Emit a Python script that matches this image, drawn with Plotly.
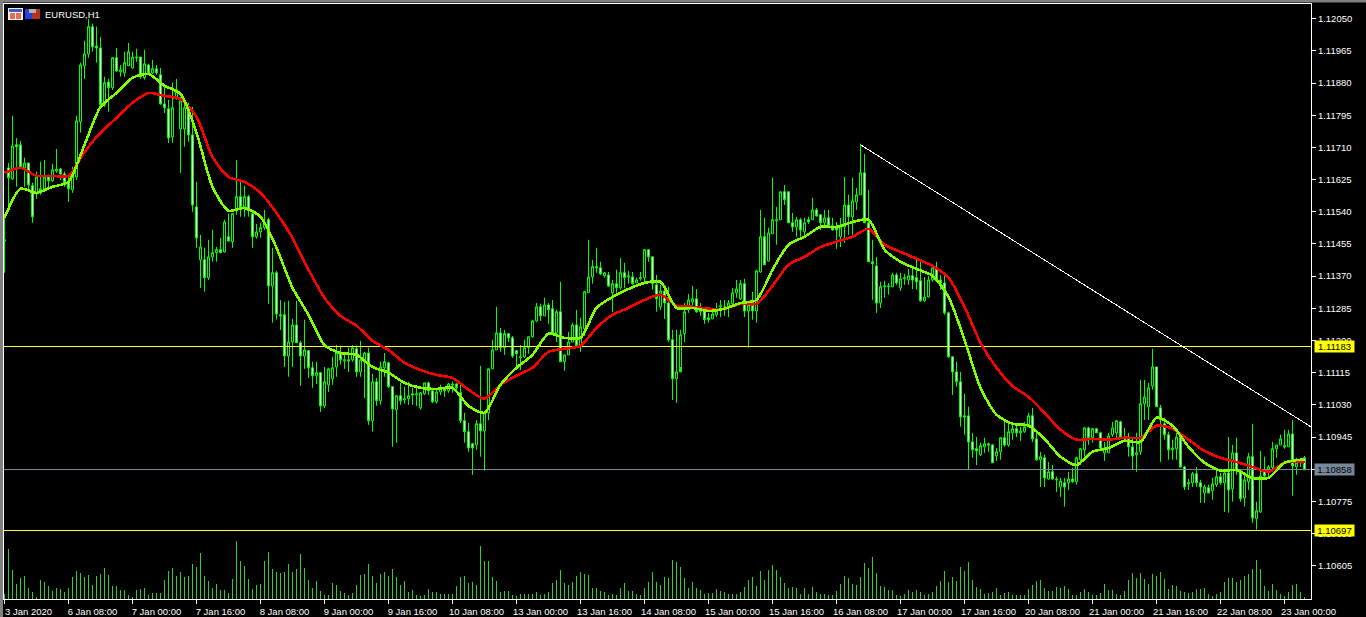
import plotly.graph_objects as go

# Prices are stored in points (1 point = 0.00001)
open_pts = [111466,111656,111627,111717,111717,111656,111669,111609,111590,111590,111601,111632,111622,111648,111653,111640,111619,111598,111632,111778,
111926,111957,112029,111978,111973,111823,111883,111868,111947,111910,111907,111926,111920,111949,111949,111894,111928,111907,111918,111902,
111825,111812,111738,111844,111759,111759,111815,111743,111553,111413,111413,111366,111421,111432,111440,111434,111474,111461,111543,111580,
111553,111580,111535,111474,111487,111498,111519,111344,111379,111268,111268,111159,111196,111241,111194,111159,111173,111128,111107,111115,
111027,111083,111099,111130,111165,111146,111149,111149,111178,111117,111149,111167,110988,111091,111041,111128,111141,111078,111017,111054,
111043,111046,111059,111056,111022,111059,111088,111067,111038,111064,111075,111067,111085,111085,111062,110988,110959,110927,110924,110980,
110961,111009,111125,111175,111220,111181,111218,111207,111173,111154,111157,111181,111210,111252,111289,111265,111294,111284,111220,111276,
111144,111162,111196,111241,111186,111231,111326,111368,111395,111392,111371,111373,111326,111350,111339,111379,111368,111368,111352,111363,
111366,111440,111421,111347,111289,111331,111299,111202,111099,111117,111218,111281,111302,111310,111276,111281,111260,111257,111268,111289,
111289,111286,111297,111326,111310,111350,111278,111302,111278,111381,111474,111410,111482,111516,111519,111593,111593,111511,111500,111519,
111487,111519,111519,111545,111532,111511,111524,111503,111498,111474,111500,111558,111527,111566,111585,111643,111511,111408,111397,111299,
111342,111342,111342,111373,111339,111363,111360,111371,111366,111358,111305,111315,111360,111392,111360,111352,111273,111157,111117,111091,
111001,111001,110932,110914,110898,110919,110927,110924,110895,110906,110943,110924,110956,110967,110956,110959,110972,111001,110940,110885,
110890,110834,110853,110834,110813,110824,110824,110834,110827,110885,110911,110969,110943,110967,110956,110903,110903,110951,110956,110985,
110945,110945,110919,110898,110906,111033,111025,111080,111130,111022,110980,110951,110911,110914,110943,110866,110821,110824,110848,110824,
110797,110811,110803,110819,110840,110824,110850,110808,110903,110856,110784,110827,110893,110729,110747,110853,110853,110864,110914,110924,
110922,110919,110953,110866,110885,110890]

high_pts = [111527,111669,111794,111735,111727,111683,111669,111617,111646,111672,111677,111638,111667,111706,111656,111646,111632,111659,111794,111934,
111992,112050,112037,112029,112002,111897,111891,111949,111973,111928,111963,111986,111963,111971,111949,111968,111931,111941,111928,111920,
111878,111836,111881,111891,111844,111841,111828,111817,111619,111479,111445,111466,111492,111447,111471,111519,111535,111537,111677,111627,
111609,111585,111540,111508,111511,111545,111524,111445,111384,111307,111302,111305,111257,111305,111199,111255,111175,111144,111144,111115,
111130,111128,111157,111188,111186,111170,111181,111188,111186,111199,111170,111181,111112,111101,111144,111167,111144,111078,111056,111088,
111078,111091,111075,111075,111064,111088,111091,111070,111075,111083,111075,111088,111091,111088,111083,111009,110982,110930,110990,111133,
111009,111128,111202,111289,111233,111228,111220,111212,111175,111188,111202,111210,111255,111299,111297,111313,111299,111307,111281,111355,
111162,111223,111247,111281,111260,111331,111466,111413,111445,111408,111381,111381,111360,111387,111418,111405,111384,111381,111366,111381,
111440,111440,111421,111373,111347,111347,111342,111228,111228,111228,111299,111323,111344,111336,111299,111286,111273,111281,111299,111307,
111307,111307,111339,111360,111360,111363,111299,111329,111387,111545,111524,111498,111630,111553,111593,111611,111593,111537,111527,111524,
111524,111527,111577,111550,111532,111545,111545,111524,111513,111524,111632,111585,111630,111603,111720,111693,111598,111466,111421,111355,
111358,111352,111379,111379,111379,111376,111389,111395,111421,111408,111368,111371,111392,111408,111373,111381,111276,111157,111144,111117,
111059,111025,110956,110945,110930,110943,110930,110927,110916,110945,110985,110982,110977,110977,110972,110985,111009,111022,110964,110906,
110898,110879,110871,110840,110837,110837,110853,110864,110893,110916,110972,110972,110969,110969,110959,110932,110956,110985,110990,110988,
110969,110956,110945,110956,111096,111096,111088,111178,111130,111030,110996,110959,110938,110956,110951,110869,110834,110853,110866,110832,
110819,110819,110837,110858,110850,110858,110945,110924,110943,110858,110845,110903,110980,110774,110908,110893,110871,110932,110924,110951,
110964,110964,110990,110890,110890,110895]

low_pts = [111379,111553,111624,111606,111656,111606,111593,111511,111574,111585,111598,111598,111619,111643,111624,111606,111566,111590,111624,111749,
111891,111947,111963,111934,111817,111817,111804,111862,111910,111897,111897,111926,111918,111936,111891,111889,111902,111904,111902,111823,
111801,111722,111722,111836,111643,111712,111725,111540,111445,111339,111329,111360,111408,111408,111432,111432,111461,111445,111532,111527,
111527,111527,111445,111469,111471,111492,111297,111247,111255,111228,111130,111104,111130,111194,111080,111125,111101,111075,111085,111011,
111022,111064,111083,111104,111136,111125,111117,111144,111104,111104,111048,110977,110959,111027,111030,111104,111075,110919,110930,111030,
111033,111030,111030,111027,111017,111056,111056,111035,111033,111056,111051,111062,111062,111064,110982,110930,110906,110845,110911,110893,
110856,110990,111125,111175,111170,111162,111196,111154,111128,111122,111154,111165,111207,111249,111252,111265,111244,111220,111196,111144,
111120,111162,111196,111186,111170,111212,111326,111350,111379,111373,111366,111342,111276,111326,111334,111339,111350,111347,111352,111358,
111350,111408,111334,111276,111281,111257,111196,111043,111035,111130,111196,111273,111286,111273,111265,111244,111247,111257,111262,111262,
111265,111262,111294,111313,111307,111262,111181,111255,111247,111379,111400,111410,111482,111453,111519,111558,111511,111487,111474,111474,
111479,111508,111519,111527,111492,111498,111500,111490,111442,111447,111458,111479,111479,111545,111585,111511,111408,111307,111273,111286,
111313,111321,111342,111347,111331,111347,111347,111336,111334,111302,111302,111313,111355,111355,111334,111268,111154,111056,111078,110972,
110951,110858,110890,110871,110895,110903,110906,110877,110882,110885,110919,110919,110938,110945,110935,110956,110972,110932,110882,110813,
110813,110832,110832,110800,110787,110761,110805,110824,110819,110871,110893,110924,110930,110956,110916,110882,110903,110945,110943,110945,
110932,110893,110858,110853,110898,110990,110990,111070,111025,110879,110938,110885,110885,110885,110864,110805,110805,110813,110813,110771,
110771,110797,110779,110813,110819,110747,110745,110774,110845,110774,110761,110805,110718,110700,110745,110840,110840,110858,110890,110924,
110914,110919,110790,110845,110866,110858]

close_pts = [111463,111630,111714,111712,111659,111669,111611,111527,111632,111601,111632,111622,111651,111653,111640,111617,111601,111638,111780,111928,
111957,112029,111976,111973,111823,111881,111868,111947,111912,111915,111934,111963,111949,111947,111897,111931,111907,111918,111907,111825,
111815,111735,111815,111862,111833,111815,111743,111558,111471,111447,111366,111421,111432,111440,111432,111513,111463,111535,111580,111553,
111580,111543,111474,111487,111498,111508,111344,111379,111270,111265,111159,111196,111241,111194,111159,111175,111128,111107,111115,111027,
111091,111125,111128,111167,111149,111149,111146,111181,111117,111149,111167,110988,111091,111041,111130,111144,111078,111019,111054,111041,
111046,111054,111056,111059,111062,111088,111067,111038,111064,111075,111067,111085,111083,111075,110988,110959,110916,110916,110980,110961,
111009,111125,111175,111220,111181,111218,111207,111159,111165,111157,111181,111210,111252,111289,111265,111294,111281,111220,111276,111144,
111162,111196,111241,111186,111236,111329,111368,111395,111392,111376,111379,111344,111350,111339,111379,111366,111371,111350,111360,111366,
111440,111421,111350,111310,111331,111299,111202,111099,111117,111215,111276,111307,111310,111276,111284,111255,111255,111270,111278,111292,
111281,111299,111326,111336,111350,111278,111294,111278,111384,111474,111400,111484,111519,111519,111593,111572,111511,111500,111519,111492,
111511,111513,111545,111529,111511,111524,111503,111492,111492,111500,111558,111527,111569,111585,111643,111511,111408,111403,111299,111342,
111344,111344,111373,111352,111363,111366,111371,111360,111355,111305,111315,111360,111392,111360,111352,111273,111157,111117,111091,110998,
110998,110932,110911,110908,110922,110927,110924,110877,110906,110943,110924,110959,110967,110956,110961,110972,111001,110940,110885,110893,
110837,110853,110834,110832,110829,110813,110834,110827,110890,110914,110969,110943,110967,110956,110916,110916,110948,110969,110988,110945,
110943,110919,110895,110903,111033,111051,111075,111130,111025,110990,110951,110911,110916,110945,110866,110813,110824,110848,110824,110813,
110813,110797,110821,110840,110824,110850,110805,110903,110856,110782,110832,110893,110731,110750,110842,110842,110866,110914,110924,110940,
110919,110953,110869,110877,110877,110858]

tick_volume = [5,50,29,15,21,23,11,7,2,19,17,13,8,11,10,7,11,22,28,26,22,24,14,23,25,31,24,13,13,9,9,4,2,9,10,11,4,6,6,6,
19,28,31,23,27,22,23,35,32,46,23,18,11,15,9,9,6,20,58,38,33,20,10,14,15,38,47,30,27,26,27,35,27,30,45,31,19,11,18,8,
4,4,16,14,
8,6,4,6,14,24,25,35,23,16,25,27,23,30,22,14,18,7,9,4,3,4,10,7,7,5,5,5,5,13,22,23,16,17,14,53,38,38,22,18,7,8,8,4,3,5,5,5,5,7,4,5,7,16,19,29,16,14,17,23,27,25,24,11,11,8,7,4,5,4,11,16,8,8,5,4,11,17,27,17,14,22,21,39,37,
32,21,11,17,11,9,5,6,6,10,8,7,5,5,5,7,12,19,22,13,28,19,29,34,29,22,16,11,12,11,5,11,5,12,7,5,5,4,4,8,15,23,21,15,14,22,36,31,42,26,13,12,9,9,4,3,5,9,7,9,7,4,5,7,13,18,28,17,22,18,32,28,37,19,12,10,5,6,7,11,4,6,7,4,4,
4,4,10,14,18,19,11,8,8,12,11,13,10,4,4,7,10,7,4,4,6,15,9,9,5,4,8,19,26,21,26,20,15,25,23,27,20,10,14,13,8,7,6,7,10,10,11,5,3,5,7,17,21,21,17,19,23,25,30,39,30,13,8,15,9,5,3,7,14,15,7,2]

ma_fast_pts = [111524,111601,111590,111606,111619,111717,111817,111854,111894,111904,
111873,111852,111749,111606,111543,111550,111527,111445,111339,111268,
111188,111167,111162,111130,111115,111088,111075,111072,111075,111027,
111009,111083,111128,111162,111218,111207,111207,111286,111315,111336,
111352,111355,111286,111286,111278,111284,111299,111307,111387,111453,
111474,111500,111500,111513,111519,111440,111408,111389,111371,111315,
111202,111075,111004,110980,110975,110940,110893,110871,110906,110916,
110935,110932,110996,110975,110919,110877,110856,110858,110837,110837,
110877,110885,110885]

ma_slow_pts = [111643,111656,111635,111635,111635,111698,111749,111788,111828,111854,
111846,111838,111791,111685,111632,111619,111590,111537,111471,111387,
111313,111265,111239,111199,111175,111141,111122,111109,111101,111070,
111046,111083,111107,111128,111170,111178,111186,111233,111268,111286,
111307,111321,111292,111289,111284,111284,111297,111297,111344,111400,
111421,111447,111461,111474,111495,111453,111434,111416,111397,111366,
111289,111194,111128,111080,111051,111009,110964,110938,110940,110938,
110943,110943,110975,110967,110938,110908,110890,110879,110866,110853,
110877,110879,110877]

level_upper = 1.11183
level_current = 1.10858
level_lower = 1.10697
trend_bars = [214, 326.6]
trend_prices = [1.11717, 1.10972]

price_ticks = [1.12050,1.11965,1.11880,1.11795,1.11710,1.11625,1.11540,1.11455,1.11370,1.11285,
               1.11200,1.11115,1.11030,1.10945,1.10860,1.10775,1.10690,1.10605]
time_tick_bars = list(range(0, 321, 16))
time_tick_labels = ["3 Jan 2020","6 Jan 08:00","7 Jan 00:00","7 Jan 16:00","8 Jan 08:00","9 Jan 00:00","9 Jan 16:00",
    "10 Jan 08:00","13 Jan 00:00","13 Jan 16:00","14 Jan 08:00","15 Jan 00:00","15 Jan 16:00","16 Jan 08:00",
    "17 Jan 00:00","17 Jan 16:00","20 Jan 08:00","21 Jan 00:00","21 Jan 16:00","22 Jan 08:00","23 Jan 00:00"]

P = lambda seq: [v / 100000 for v in seq]
bars = list(range(len(open_pts)))
ma_bars = list(range(0, 325, 4)) + [325]

W, H = 1366, 617
ML, MR, MT, MB = 4, 55, 4, 18
PW, PH = W - ML - MR, H - MT - MB
XR = [-0.125, 326.625]
FONT = "Liberation Sans"
px = lambda x: (x - ML) / PW
py = lambda y: 1 - (y - MT) / PH

fig = go.Figure()
fig.add_trace(go.Bar(x=bars, y=tick_volume, yaxis="y2", width=0.25,
                     marker=dict(color="#32CD32", line=dict(width=0)), hoverinfo="skip"))
fig.add_trace(go.Candlestick(x=bars, open=P(open_pts), high=P(high_pts), low=P(low_pts), close=P(close_pts),
    whiskerwidth=0, hoverinfo="skip",
    increasing=dict(line=dict(color="#00FF00", width=1), fillcolor="#000000"),
    decreasing=dict(line=dict(color="#00FF00", width=1), fillcolor="#FFFFFF")))
for lvl, col in ((level_upper, "#FFFF33"), (level_lower, "#FFFF33"), (level_current, "#778899")):
    fig.add_trace(go.Scatter(x=XR, y=[lvl, lvl], mode="lines",
                             line=dict(color=col, width=1), hoverinfo="skip"))
fig.add_trace(go.Scatter(x=trend_bars, y=trend_prices, mode="lines",
                         line=dict(color="#FFFFFF", width=1), hoverinfo="skip"))
fig.add_trace(go.Scatter(x=ma_bars, y=P(ma_slow_pts), mode="lines",
                         line=dict(color="#FF0000", width=2.6, shape="spline", smoothing=0.7), hoverinfo="skip"))
fig.add_trace(go.Scatter(x=ma_bars, y=P(ma_fast_pts), mode="lines",
                         line=dict(color="#7FFF00", width=2.6, shape="spline", smoothing=0.7), hoverinfo="skip"))

annotations = [dict(xref="paper", yref="paper", x=px(43), y=py(14.5), text="EURUSD,H1", showarrow=False,
                    xanchor="left", yanchor="middle", font=dict(family=FONT, size=9.5, color="#FFFFFF"))]
for lvl, bg, fg in ((level_upper, "#FFFF00", "#000000"), (level_lower, "#FFFF00", "#000000"),
                    (level_current, "#778899", "#000000")):
    annotations.append(dict(xref="paper", yref="y", x=px(1314), y=lvl, text=f"{lvl:.5f}", showarrow=False,
                            xanchor="left", yanchor="middle", width=39, height=11, borderpad=0, align="center",
                            bgcolor=bg, font=dict(family=FONT, size=9.5, color=fg)))

def rect(x0, y0, x1, y1, fill):
    return dict(type="rect", xref="paper", yref="paper", x0=px(x0), x1=px(x1), y0=py(y0), y1=py(y1),
                fillcolor=fill, line=dict(width=0), layer="above")

shapes = [rect(0, 0, W, 2.5, "#808080"), rect(0, 0, 3, H, "#808080"),
          rect(8, 8, 23, 20, "#F0F0F0"), rect(9, 9, 22, 12, "#3A5FC8"), rect(10, 13, 15, 19, "#E07050"), rect(16, 13, 21, 19, "#E07050"),
          rect(25, 9, 32, 19, "#2A3FD8"), rect(32, 9, 40, 19, "#B83020"), rect(29, 9, 36, 13, "#B0B0B0")]

fig.update_layout(
    width=W, height=H, margin=dict(l=ML, r=MR, t=MT, b=MB, pad=0, autoexpand=False),
    paper_bgcolor="#000000", plot_bgcolor="#000000", showlegend=False, boxgap=0.5, boxgroupgap=0,
    font=dict(family=FONT, size=9.5, color="#FFFFFF"),
    annotations=annotations, shapes=shapes, hovermode=False,
    xaxis=dict(range=XR, rangeslider=dict(visible=False), showgrid=False, zeroline=False, automargin=False,
               tickmode="array", tickvals=time_tick_bars, ticktext=time_tick_labels, ticks="outside", ticklen=4,
               tickwidth=1, tickcolor="#FFFFFF", showline=True, linecolor="#FFFFFF", linewidth=1, mirror=True,
               ticklabelshift=24, tickangle=0, tickfont=dict(family=FONT, size=9.5, color="#FFFFFF")),
    yaxis=dict(range=[1.10517, 1.12089], side="right", showgrid=False, zeroline=False, automargin=False, tickmode="array",
               tickvals=price_ticks, ticktext=[f"{t:.5f}" for t in price_ticks], ticks="outside", ticklen=4,
               tickwidth=1, tickcolor="#FFFFFF", showline=True, linecolor="#FFFFFF", linewidth=1, mirror=True,
               tickfont=dict(family=FONT, size=9.5, color="#FFFFFF")),
    yaxis2=dict(domain=[0, 60 / PH], range=[0, 60], visible=False, anchor="x"),
)
fig.write_html("out.html", config={"displayModeBar": False},
    post_script="document.body.style.margin='0';document.body.style.overflow='hidden';document.body.style.background='#000';"
                "document.querySelectorAll('.scatterlayer .js-line').forEach(function(p){p.style.shapeRendering='crispEdges';});")
